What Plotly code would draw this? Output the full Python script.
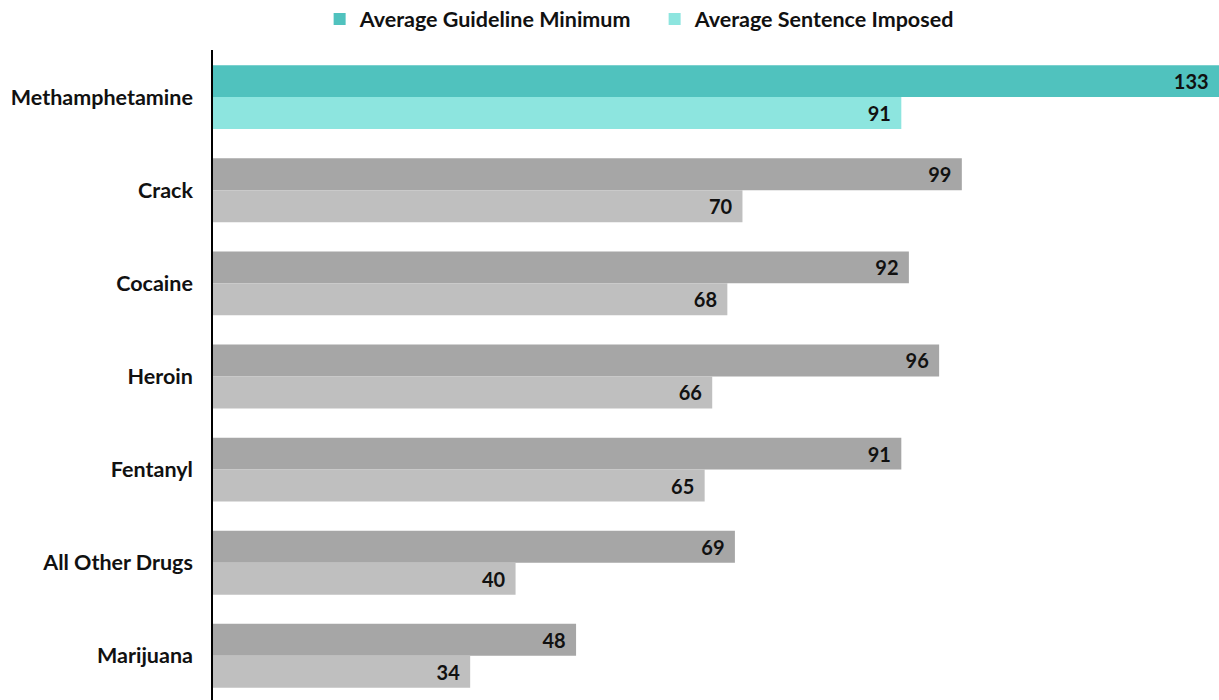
import plotly.graph_objects as go

drugs = ["Methamphetamine", "Crack", "Cocaine", "Heroin", "Fentanyl", "All Other Drugs", "Marijuana"]
guideline_min = [133, 99, 92, 96, 91, 69, 48]
sentence_imposed = [91, 70, 68, 66, 65, 40, 34]

# highlight the first category, grey for the rest
guide_colors = ["#50C2BE"] + ["#A6A6A6"] * (len(drugs) - 1)
imposed_colors = ["#8DE5DF"] + ["#BFBFBF"] * (len(drugs) - 1)

fsize = 21.5
label_font = dict(family="Lato", size=fsize, color="#111111", weight="bold")
value_font = dict(family="Lato", size=20, color="#111111", weight="bold")
pad = "\u00a0\u2009"

fig = go.Figure()
fig.add_trace(go.Bar(
    y=drugs, x=guideline_min, orientation="h",
    name="Average Guideline Minimum",
    marker=dict(color=guide_colors, line=dict(width=0)),
    text=[str(v) + pad for v in guideline_min],
    textposition="inside", insidetextanchor="end",
    insidetextfont=value_font, textangle=0,
    hoverinfo="x+y",
))
fig.add_trace(go.Bar(
    y=drugs, x=sentence_imposed, orientation="h",
    name="Average Sentence Imposed",
    marker=dict(color=imposed_colors, line=dict(width=0)),
    text=[str(v) + pad for v in sentence_imposed],
    textposition="inside", insidetextanchor="end",
    insidetextfont=value_font, textangle=0,
    hoverinfo="x+y",
))

fig.update_layout(
    width=1219, height=700,
    barmode="group", bargap=0.313, bargroupgap=0,
    plot_bgcolor="white", paper_bgcolor="white",
    margin=dict(l=213, r=0, t=50, b=0),
    font=dict(family="Lato", size=fsize, color="#111111", weight="bold"),
    uniformtext=dict(minsize=10, mode="show"),
    legend=dict(
        orientation="h", x=0.106, xanchor="left",
        yref="container", y=0.973, yanchor="middle",
        font=label_font,
        entrywidth=290, entrywidthmode="pixels",
        traceorder="normal",
    ),
)
fig.update_xaxes(range=[0, 133], visible=False, showgrid=False, zeroline=False)
fig.update_yaxes(
    range=[6.474, -0.506], showline=True, linecolor="#000000", linewidth=1.5,
    ticks="", ticklabelstandoff=14, showgrid=False,
    tickfont=label_font,
)

# drop the default page margin so the figure sits at the window's corner
fig.write_html("out.html", config={"displayModeBar": False},
               post_script="document.body.style.margin='0';")
